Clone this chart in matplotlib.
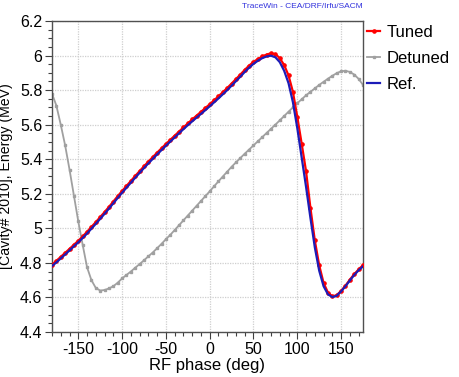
import numpy as np
import matplotlib
matplotlib.use("Agg")
import matplotlib.pyplot as plt
from matplotlib.ticker import MultipleLocator

plt.rcParams['font.family'] = ['Liberation Sans', 'DejaVu Sans']
plt.rcParams['axes.unicode_minus'] = False

phase = list(range(-180, 180, 5))

tuned = [4.790, 4.812, 4.835, 4.858, 4.881, 4.905, 4.928, 4.953, 4.980, 5.008,
         5.036, 5.065, 5.094, 5.124, 5.155, 5.186, 5.216, 5.245, 5.274, 5.303,
         5.331, 5.359, 5.386, 5.412, 5.438, 5.463, 5.488, 5.512, 5.536, 5.560,
         5.584, 5.607, 5.630, 5.652, 5.674, 5.696, 5.718, 5.741, 5.764, 5.788,
         5.812, 5.838, 5.864, 5.890, 5.917, 5.942, 5.963, 5.980, 5.995, 6.006,
         6.013, 6.008, 5.985, 5.945, 5.885, 5.790, 5.645, 5.490, 5.330, 5.118,
         4.930, 4.786, 4.684, 4.628, 4.606, 4.613, 4.638, 4.668, 4.703, 4.735,
         4.762, 4.787]

detuned = [5.780, 5.710, 5.600, 5.480, 5.340, 5.190, 5.040, 4.905, 4.775, 4.700,
           4.655, 4.640, 4.643, 4.652, 4.665, 4.685, 4.710, 4.730, 4.750, 4.772,
           4.793, 4.815, 4.838, 4.860, 4.885, 4.910, 4.937, 4.962, 4.990, 5.018,
           5.046, 5.074, 5.102, 5.130, 5.158, 5.186, 5.214, 5.243, 5.272, 5.300,
           5.328, 5.356, 5.382, 5.407, 5.432, 5.456, 5.480, 5.504, 5.528, 5.552,
           5.576, 5.600, 5.625, 5.650, 5.675, 5.700, 5.724, 5.747, 5.770, 5.790,
           5.810, 5.830, 5.848, 5.866, 5.883, 5.898, 5.909, 5.912, 5.905, 5.890,
           5.865, 5.830]

ref = [4.782, 4.803, 4.826, 4.849, 4.872, 4.896, 4.919, 4.944, 4.970, 4.998,
       5.026, 5.055, 5.084, 5.114, 5.145, 5.176, 5.206, 5.235, 5.264, 5.293,
       5.321, 5.349, 5.376, 5.402, 5.428, 5.453, 5.478, 5.502, 5.526, 5.550,
       5.574, 5.597, 5.619, 5.641, 5.662, 5.684, 5.706, 5.729, 5.752, 5.776,
       5.800, 5.826, 5.852, 5.878, 5.905, 5.930, 5.952, 5.970, 5.985, 5.995,
       5.999, 5.990, 5.962, 5.912, 5.840, 5.730, 5.580, 5.410, 5.240, 5.060,
       4.890, 4.755, 4.665, 4.618, 4.602, 4.610, 4.635, 4.665, 4.698, 4.730,
       4.757, 4.780]

fig = plt.figure(figsize=(4.6, 3.77), dpi=100)
ax = fig.add_axes([52/460, 45/377, 311/460, 311/377])

ax.plot(phase, tuned, color='#ff0000', lw=1.6, marker='o', ms=2.3, label='Tuned', zorder=3)
ax.plot(phase, detuned, color='#a0a0a0', lw=1.3, marker='s', ms=2.0, label='Detuned', zorder=2)
ax.plot(phase, ref, color='#1c1cb8', lw=1.6, label='Ref.', zorder=4)

ax.set_xlim(-180, 175)
ax.set_ylim(4.4, 6.2)
ax.xaxis.set_major_locator(MultipleLocator(50))
ax.xaxis.set_minor_locator(MultipleLocator(10))
ax.yaxis.set_major_locator(MultipleLocator(0.2))
ax.yaxis.set_minor_locator(MultipleLocator(0.05))
ax.yaxis.set_major_formatter(matplotlib.ticker.FuncFormatter(lambda v, p: ('%g' % round(v, 2))))
ax.grid(True, which='major', color='#cfcfcf', ls=(0, (1, 1)), lw=0.9)
ax.tick_params(which='major', direction='out', length=5, width=0.8, color='#404040', labelsize=11.5, pad=2)
ax.tick_params(which='minor', direction='out', length=3, width=0.8, color='#404040')
for s in ax.spines.values():
    s.set_color('#505050')
    s.set_linewidth(1.0)

ax.set_xlabel('RF phase (deg)', fontsize=12, labelpad=1)
ax.set_ylabel('[Cavity# 2010], Energy (MeV)', fontsize=10.2, labelpad=5)

leg = ax.legend(loc='upper left', bbox_to_anchor=(1.0, 1.0), frameon=False,
                fontsize=12, handlelength=0.8, handletextpad=0.35,
                borderaxespad=0.0, borderpad=0.25, labelspacing=0.65, markerscale=1.0)

fig.text(302/460, 1 - 6/377, 'TraceWin - CEA/DRF/Irfu/SACM', color='#3333dd',
         fontsize=6, ha='center', va='center')

fig.savefig('out.png', dpi=100)
